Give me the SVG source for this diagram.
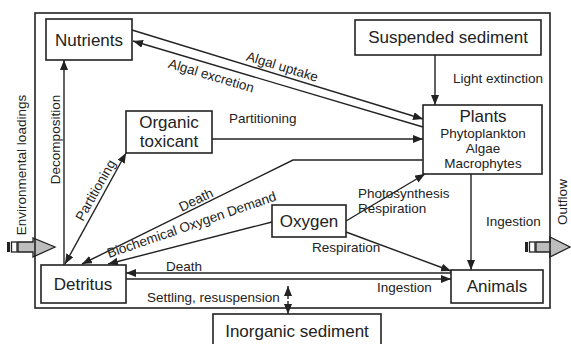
<svg xmlns="http://www.w3.org/2000/svg" width="571" height="344" viewBox="0 0 571 344">
<style>
.box{fill:#fff;stroke:#222;stroke-width:1.6}
.ln{fill:none;stroke:#222;stroke-width:1.4}
.big{font-family:"Liberation Sans",Arial,sans-serif;font-size:17px;fill:#222}
.sm{font-family:"Liberation Sans",Arial,sans-serif;font-size:13.5px;fill:#222}
.mid{text-anchor:middle}
.blk{fill:#bdbdbd;stroke:#222;stroke-width:1.3}
</style>
<defs>
<marker id="ah" markerUnits="userSpaceOnUse" markerWidth="11" markerHeight="9" refX="10" refY="4" orient="auto-start-reverse">
<path d="M0,0 L10,4 L0,8 z" fill="#222"/>
</marker>
</defs>
<rect width="571" height="344" fill="#fff"/>
<g id="inflow">
<rect x="7" y="242" width="3" height="10" fill="#222"/>
<rect x="11.5" y="242" width="5.5" height="10" fill="#fff" stroke="#222" stroke-width="1.3"/>
<polygon class="blk" points="18,242 33,242 33,238 55,247 33,257 33,252 18,252"/>
</g>
<g id="outflow">
<rect x="525" y="242" width="3" height="10" fill="#222"/>
<rect x="529.5" y="242" width="5.5" height="10" fill="#fff" stroke="#222" stroke-width="1.3"/>
<polygon class="blk" points="536,242 550,242 550,237 570,247 550,257 550,252 536,252"/>
</g>
<rect id="frame" x="35" y="13" width="515" height="295" fill="none" stroke="#222" stroke-width="1.6"/>
<text class="sm mid" transform="translate(26,165) rotate(-90)">Environmental loadings</text>
<text class="sm mid" transform="translate(567,202) rotate(-90)">Outflow</text>
<g id="connectors">
<line class="ln" x1="64" y1="265" x2="64" y2="60" marker-end="url(#ah)"/>
<line class="ln" x1="65" y1="264" x2="126" y2="153" marker-start="url(#ah)" marker-end="url(#ah)"/>
<line class="ln" x1="132" y1="30" x2="423" y2="119" marker-end="url(#ah)"/>
<line class="ln" x1="423" y1="127" x2="133" y2="41" marker-end="url(#ah)"/>
<line class="ln" x1="435" y1="55" x2="435" y2="105" marker-end="url(#ah)"/>
<line class="ln" x1="212" y1="139" x2="423" y2="139" marker-end="url(#ah)"/>
<polyline class="ln" points="423,160 293,160 82,264" marker-end="url(#ah)"/>
<line class="ln" x1="272" y1="222" x2="108" y2="264" marker-end="url(#ah)"/>
<line class="ln" x1="346" y1="221" x2="425" y2="174" marker-end="url(#ah)"/>
<line class="ln" x1="346" y1="232" x2="451" y2="271" marker-end="url(#ah)"/>
<line class="ln" x1="471" y1="174" x2="471" y2="270" marker-end="url(#ah)"/>
<line class="ln" x1="451" y1="273" x2="126" y2="273" marker-end="url(#ah)"/>
<line class="ln" x1="126" y1="279" x2="451" y2="279" marker-end="url(#ah)"/>
<line class="ln" x1="288" y1="286" x2="288" y2="314" stroke-dasharray="3,2" marker-start="url(#ah)" marker-end="url(#ah)"/>
<text class="sm" transform="translate(281,71) rotate(17)" text-anchor="middle">Algal uptake</text>
<text class="sm" transform="translate(210,80) rotate(16.5)" text-anchor="middle">Algal excretion</text>
<text class="sm" x="453" y="83">Light extinction</text>
<text class="sm" x="229" y="123">Partitioning</text>
<text class="sm mid" transform="translate(60,139.5) rotate(-90)">Decomposition</text>
<text class="sm mid" transform="translate(99.5,192.5) rotate(-60.6)">Partitioning</text>
<text class="sm mid" transform="translate(198,204) rotate(-26)">Death</text>
<text class="sm" transform="translate(109,258) rotate(-19)">Biochemical Oxygen Demand</text>
<text class="sm" x="358" y="198">Photosynthesis</text>
<text class="sm" x="358" y="213">Respiration</text>
<text class="sm" x="312" y="252">Respiration</text>
<text class="sm" x="486" y="226">Ingestion</text>
<text class="sm" x="166" y="271">Death</text>
<text class="sm" x="377" y="292">Ingestion</text>
<text class="sm" x="147" y="302">Settling, resuspension</text>
</g>
<g id="nutrients">
<rect class="box" x="46" y="19" width="86" height="41"/>
<text class="big mid" x="89" y="46">Nutrients</text>
</g>
<g id="suspended-sediment">
<rect class="box" x="355" y="20" width="186" height="35"/>
<text class="big mid" x="448" y="43">Suspended sediment</text>
</g>
<g id="plants">
<rect class="box" x="423" y="105" width="119" height="69"/>
<text class="big mid" x="483" y="122">Plants</text>
<text class="sm mid" x="483" y="138">Phytoplankton</text>
<text class="sm mid" x="483" y="153">Algae</text>
<text class="sm mid" x="483" y="168">Macrophytes</text>
</g>
<g id="organic-toxicant">
<rect class="box" x="126" y="111" width="86" height="42"/>
<text class="big mid" x="169" y="128">Organic</text>
<text class="big mid" x="169" y="147">toxicant</text>
</g>
<g id="oxygen">
<rect class="box" x="272" y="205" width="74" height="32"/>
<text class="big mid" x="309" y="227">Oxygen</text>
</g>
<g id="detritus">
<rect class="box" x="41" y="265" width="85" height="38"/>
<text class="big mid" x="83" y="290">Detritus</text>
</g>
<g id="animals">
<rect class="box" x="451" y="270" width="92" height="33"/>
<text class="big mid" x="497" y="292">Animals</text>
</g>
<g id="inorganic-sediment">
<rect class="box" x="213" y="314" width="168" height="40"/>
<text class="big mid" x="297" y="337">Inorganic sediment</text>
</g>
</svg>
